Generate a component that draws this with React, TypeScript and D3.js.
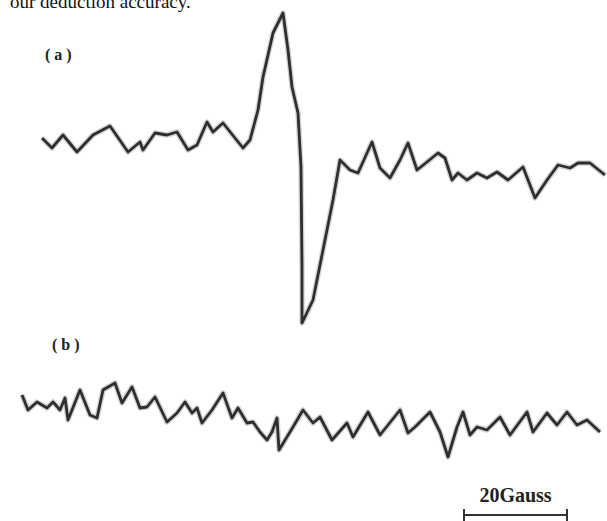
import * as d3 from "d3";

// trace (a): field position (arbitrary units), signal (arbitrary, up = positive)
const fieldA = [42, 52, 63, 77, 93, 110, 128, 140, 143, 155, 167, 177, 188, 197, 207, 213, 223, 243, 250, 258, 263, 273, 283, 288, 292, 298, 301, 302, 302, 313, 333, 340, 350, 358, 372, 380, 390, 400, 408, 417, 427, 438, 445, 452, 458, 467, 477, 487, 497, 508, 523, 535, 547, 558, 570, 578, 590, 605];
const signalA = [7, -3, 10, -7, 10, 19, -7, 3, -5, 12, 10, 13, -5, 0, 23, 13, 22, -3, 5, 35, 68, 112, 132, 95, 58, 32, -22, -122, -178, -155, -55, -15, -25, -28, 3, -23, -33, -15, 2, -25, -17, -8, -13, -35, -28, -35, -28, -33, -27, -35, -22, -53, -35, -20, -23, -18, -18, -30];

// trace (b)
const fieldB = [22, 28, 37, 47, 53, 60, 65, 68, 80, 90, 97, 103, 115, 122, 132, 140, 147, 155, 167, 177, 185, 192, 197, 202, 212, 223, 232, 238, 247, 253, 260, 267, 272, 277, 279, 293, 303, 313, 320, 332, 347, 353, 368, 380, 400, 408, 415, 430, 440, 448, 457, 463, 470, 477, 487, 500, 510, 527, 533, 547, 557, 567, 577, 587, 600];
const signalB = [20, 5, 13, 7, 13, 5, 17, -5, 25, 0, -3, 25, 32, 12, 28, 7, 8, 18, -7, 2, 13, 2, 7, -8, 5, 22, -3, 7, -8, -7, -17, -25, -17, -3, -35, -12, 5, -8, -2, -25, -8, -22, 3, -20, 5, -18, -12, 3, -17, -42, -12, 3, -20, -12, -15, -2, -20, 3, -17, 2, -10, 3, -10, -5, -17];

const scaleGauss = 20;
const unitsPerGauss = 5.15;

const W = 607;
const H = 521;

export default function App() {
  const x = d3.scaleLinear().domain([0, 600]).range([0, 600]);
  const yA = d3.scaleLinear().domain([-180, 135]).range([325, 10]);
  const yB = d3.scaleLinear().domain([-40, 30]).range([455, 385]);

  const lineA = d3
    .line<number>()
    .x((d, i) => x(fieldA[i]))
    .y((d) => yA(d));
  const lineB = d3
    .line<number>()
    .x((d, i) => x(fieldB[i]))
    .y((d) => yB(d));

  const barX0 = x(464);
  const barX1 = x(464 + scaleGauss * unitsPerGauss);
  const barY = 515;

  // scanned look: soft grey halo under a dark stroke
  const trace = (d: string | null) => (
    <g>
      <path d={d || ""} fill="none" stroke="#b0b0b0" strokeWidth={5.5} strokeLinejoin="round" opacity={0.55} />
      <path d={d || ""} fill="none" stroke="#2e2e2e" strokeWidth={2.8} strokeLinejoin="round" />
    </g>
  );

  const serif = "Liberation Serif, Times New Roman, serif";

  return (
    <svg
      width={W}
      height={H}
      viewBox={`0 0 ${W} ${H}`}
      style={{ position: "absolute", left: 0, top: 0, background: "#fff" }}
    >
      <text x={10} y={8} fontFamily={serif} fontSize={19} fill="#111">
        our deduction accuracy.
      </text>

      <text x={45} y={60} fontFamily={serif} fontWeight="bold" fontSize={16} fill="#222" xmlSpace="preserve">
        ( a )
      </text>
      <text x={52} y={350} fontFamily={serif} fontWeight="bold" fontSize={16} fill="#222" xmlSpace="preserve">
        ( b )
      </text>

      {trace(lineA(signalA))}
      {trace(lineB(signalB))}

      <text
        x={(barX0 + barX1) / 2}
        y={502}
        textAnchor="middle"
        fontFamily={serif}
        fontWeight="bold"
        fontSize={20}
        fill="#222"
      >
        {`${scaleGauss}Gauss`}
      </text>
      <g stroke="#333" strokeWidth={2}>
        <line x1={barX0} x2={barX1} y1={barY} y2={barY} />
        <line x1={barX0} x2={barX0} y1={barY - 6} y2={barY + 6} />
        <line x1={barX1} x2={barX1} y1={barY - 6} y2={barY + 6} />
      </g>
    </svg>
  );
}
